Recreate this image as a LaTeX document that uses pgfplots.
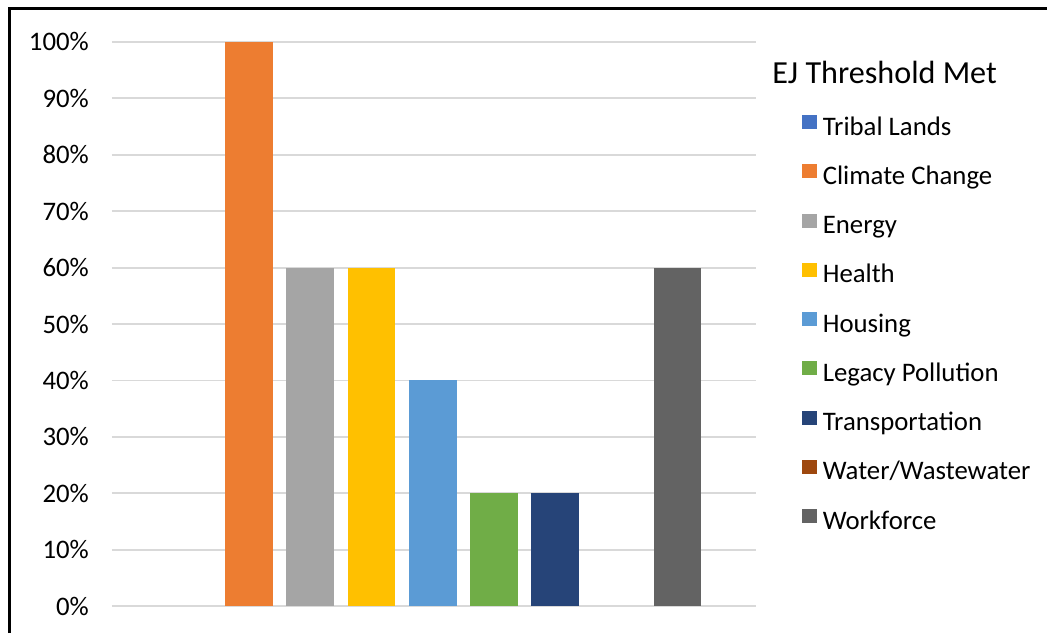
\documentclass[border=0pt]{standalone}
\usepackage{pgfplots}
\pgfplotsset{compat=1.18}
\usepackage{fontspec}
\setmainfont{Carlito}
\definecolor{cTribal}{HTML}{4472C4}
\definecolor{cClimate}{HTML}{ED7D31}
\definecolor{cEnergy}{HTML}{A5A5A5}
\definecolor{cHealth}{HTML}{FFC000}
\definecolor{cHousing}{HTML}{5B9BD5}
\definecolor{cLegacy}{HTML}{70AD47}
\definecolor{cTransport}{HTML}{264478}
\definecolor{cWater}{HTML}{9E480E}
\definecolor{cWork}{HTML}{636363}
\definecolor{cGrid}{HTML}{D9D9D9}
\begin{document}
\begin{tikzpicture}
\path (0,0) rectangle (524pt,317pt);
\draw[line width=1.5pt] (4.75pt,0) -- (4.75pt,312.5pt) -- (524pt,312.5pt);
\begin{axis}[
  at={(56pt,13.5pt)}, anchor=south west,
  scale only axis, width=322.5pt, height=282.5pt,
  xmin=-1.24, xmax=9.28, ymin=0, ymax=100,
  xtick=\empty,
  ytick={0,10,...,100},
  yticklabel={\pgfmathprintnumber{\tick}\%},
  /pgf/number format/assume math mode=true,
  yticklabel style={font=\fontsize{13.4}{15}\selectfont, xshift=-8pt},
  ytick style={draw=none},
  axis line style={draw=none},
  ymajorgrids, grid style={cGrid, line width=0.9pt},
  clip=false,
  legend image code/.code={\draw[#1, draw=none] (0pt,0pt) rectangle (7.5pt,7pt);},
  legend cell align=left,
  legend style={at={(axis description cs:0,1)}, anchor=north west, xshift=345.5pt, yshift=-36.7pt,
    draw=none, fill=none, inner sep=0pt, outer sep=0pt,
    font=\fontsize{13.4}{15}\selectfont,
    nodes={inner sep=0pt, text height=9pt, text depth=3pt},
    row sep=11.65pt, column sep=3pt},
]
\addplot[ybar, bar width=0.78, fill=none, draw=none,
  legend image code/.code={\fill[cTribal] (0pt,0pt) rectangle (7.5pt,7pt);}] coordinates {(0,0)};
\addlegendentry{Tribal Lands}
\addplot[ybar, bar width=0.78, fill=cClimate, draw=none] coordinates {(1,100)};
\addlegendentry{Climate Change}
\addplot[ybar, bar width=0.78, fill=cEnergy, draw=none] coordinates {(2,60)};
\addlegendentry{Energy}
\addplot[ybar, bar width=0.78, fill=cHealth, draw=none] coordinates {(3,60)};
\addlegendentry{Health}
\addplot[ybar, bar width=0.78, fill=cHousing, draw=none] coordinates {(4,40)};
\addlegendentry{Housing}
\addplot[ybar, bar width=0.78, fill=cLegacy, draw=none] coordinates {(5,20)};
\addlegendentry{Legacy Pollution}
\addplot[ybar, bar width=0.78, fill=cTransport, draw=none] coordinates {(6,20)};
\addlegendentry{Transportation}
\addplot[ybar, bar width=0.78, fill=none, draw=none,
  legend image code/.code={\fill[cWater] (0pt,0pt) rectangle (7.5pt,7pt);}] coordinates {(7,0)};
\addlegendentry{Water/Wastewater}
\addplot[ybar, bar width=0.78, fill=cWork, draw=none] coordinates {(8,60)};
\addlegendentry{Workforce}
\end{axis}
\node[anchor=base west, inner sep=0pt, font=\fontsize{16.1}{18}\selectfont] at (386.5pt,275pt) {EJ Threshold Met};
\end{tikzpicture}
\end{document}
